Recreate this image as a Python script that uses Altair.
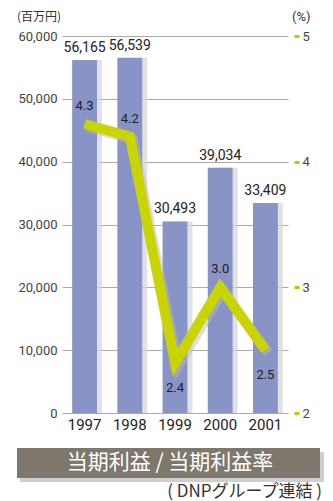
import altair as alt
import pandas as pd

years = ["1997", "1998", "1999", "2000", "2001"]
profit = [56165, 56539, 30493, 39034, 33409]
rate = [4.3, 4.2, 2.4, 3.0, 2.5]
rate_labels_above = ["1997", "1998", "2000"]
left_ticks = [0, 10000, 20000, 30000, 40000, 50000, 60000]
right_ticks = [2, 3, 4, 5]

df = pd.DataFrame({"year": years, "profit": profit, "rate": rate})
df["rate_txt"] = [f"{r:.1f}" for r in rate]
df["above"] = [y in rate_labels_above for y in years]

FONT = "Roboto"
JP = "Noto Sans CJK JP"
W, H = 226, 377

xs = alt.Scale(paddingInner=0.45, paddingOuter=0.225)
x = alt.X("year:N", scale=xs,
          axis=alt.Axis(title=None, labelFontSize=15, labelColor="#222", labelFont=FONT,
                        domain=False, ticks=False, labelPadding=4, labelAngle=0))

ls = alt.Scale(domain=[0, 60000], nice=False)
yl_axis = alt.Y("profit:Q", scale=ls,
                axis=alt.Axis(title=None, orient="left", values=left_ticks,
                              labelExpr="format(datum.value, ',')", labelFontSize=13,
                              labelColor="#444", labelFont=FONT, domain=False, ticks=False,
                              labelPadding=5, grid=True, gridColor="#aaaaaa", gridWidth=1.2))
yl = alt.Y("profit:Q", scale=ls, axis=None)

rs = alt.Scale(domain=[2, 5], nice=False)
yr_axis = alt.Y("rate:Q", scale=rs,
                axis=alt.Axis(title=None, orient="right", values=right_ticks, labelFontSize=13,
                              labelColor="#444", labelFont=FONT, domain=False, ticks=True,
                              tickColor="#b8cc00", tickWidth=3, tickSize=5, offset=6,
                              labelPadding=3, grid=False))
yr = alt.Y("rate:Q", scale=rs, axis=None)

base = alt.Chart(df)

shadow = base.mark_bar(color="#d4d4d8", opacity=0.7, xOffset=5).encode(x=x, y=yl)
bars = base.mark_bar(color="#8893c6").encode(x=x, y=yl_axis)
bar_txt = base.mark_text(baseline="bottom", dy=-5, fontSize=14, font=FONT, color="#222").encode(
    x=x, y=yl, text=alt.Text("profit:Q", format=","))

line_shadow = base.mark_line(color="#bbbbbb", opacity=0.5, strokeWidth=10, strokeCap="butt",
                             strokeJoin="miter", xOffset=3, yOffset=3).encode(x=x, y=yr)
line = base.mark_line(color="#c9d400", strokeWidth=10, strokeCap="butt",
                      strokeJoin="miter").encode(x=x, y=yr_axis)
txt_above = base.transform_filter("datum.above").mark_text(
    baseline="middle", dy=-18, fontSize=13, font=FONT, color="#222").encode(
    x=x, y=yr, text="rate_txt:N")
txt_below = base.transform_filter("!datum.above").mark_text(
    baseline="middle", dy=25, fontSize=13, font=FONT, color="#222").encode(
    x=x, y=yr, text="rate_txt:N")

deco = alt.Chart(pd.DataFrame({"a": [0]}))
unit_l = deco.mark_text(text="(百万円)", font=JP, fontSize=12, color="#333", align="left",
                        baseline="middle").encode(x=alt.value(-45), y=alt.value(-19))
unit_r = deco.mark_text(text="(%)", font=FONT, fontSize=13, color="#333", align="left",
                        baseline="middle").encode(x=alt.value(230), y=alt.value(-19))
box_shadow = deco.mark_rect(color="#cfcfcf").encode(
    x=alt.value(-42), x2=alt.value(262), y=alt.value(416), y2=alt.value(446))
box = deco.mark_rect(color="#7e776b").encode(
    x=alt.value(-45), x2=alt.value(258), y=alt.value(412), y2=alt.value(442))
title = deco.mark_text(text="当期利益 / 当期利益率", font=JP, fontSize=21, color="white",
                       align="center", baseline="middle").encode(x=alt.value(108), y=alt.value(427))
sub = deco.mark_text(text="(  DNPグループ連結  )", font=JP, fontSize=17, color="#333",
                     align="right", baseline="middle").encode(x=alt.value(260), y=alt.value(456))

chart = alt.layer(
    shadow, bars, bar_txt, line_shadow, line, txt_above, txt_below,
    unit_l, unit_r, box_shadow, box, title, sub
).resolve_scale(y="independent").properties(
    width=W, height=H, padding={"left": 62, "top": 36, "right": 45, "bottom": 88},
    autosize=alt.AutoSizeParams(type="none"), background="white"
).configure_view(stroke=None)

chart.save("out.html", embed_options={"renderer": "svg", "actions": False})
